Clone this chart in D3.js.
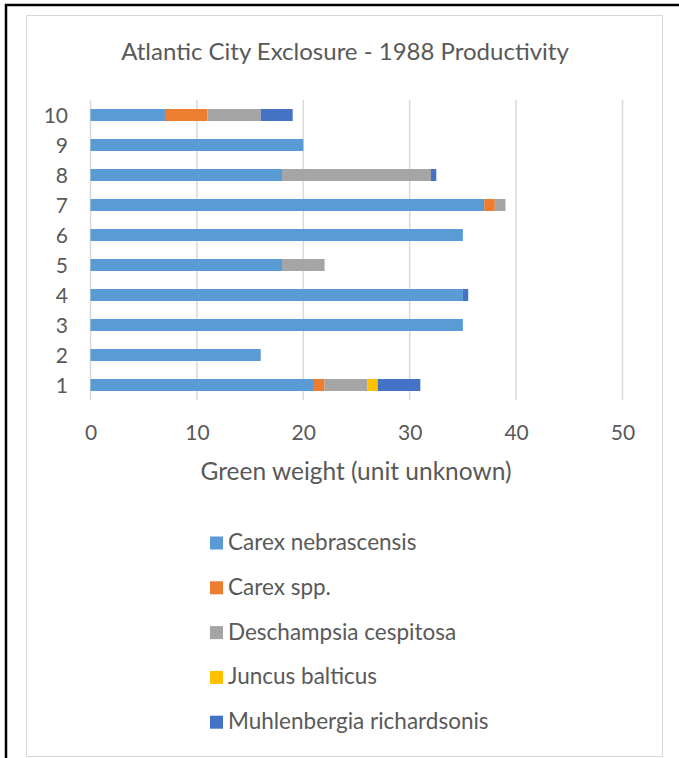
<!DOCTYPE html>
<html>
<head>
<meta charset="utf-8">
<script src="https://cdn.jsdelivr.net/npm/d3@7"></script>
<style>
  body { margin: 0; background: #fff; }
  text { font-family: Lato, "Open Sans", sans-serif; fill: #595959; }
</style>
</head>
<body>
<svg id="chart"></svg>
<script>
// plots, bottom to top
var plots = ["1", "2", "3", "4", "5", "6", "7", "8", "9", "10"];
var species = [
  "Carex nebrascensis",
  "Carex spp.",
  "Deschampsia cespitosa",
  "Juncus balticus",
  "Muhlenbergia richardsonis"
];
var carexNebrascensis = [21, 16, 35, 35, 18, 35, 37, 18, 20, 7];
var carexSpp          = [1, 0, 0, 0, 0, 0, 1, 0, 0, 4];
var deschampsia       = [4, 0, 0, 0, 4, 0, 1, 14, 0, 5];
var juncus            = [1, 0, 0, 0, 0, 0, 0, 0, 0, 0];
var muhlenbergia      = [4, 0, 0, 0.5, 0, 0, 0, 0.5, 0, 3];
var xTicks = [0, 10, 20, 30, 40, 50];
var colors = ["#5B9BD5", "#ED7D31", "#A5A5A5", "#FFC000", "#4472C4"];

var seriesValues = [carexNebrascensis, carexSpp, deschampsia, juncus, muhlenbergia];
var rows = plots.map(function (p, i) {
  var r = {plot: p};
  species.forEach(function (s, k) { r[s] = seriesValues[k][i]; });
  return r;
});

const width = 679, height = 758;
const svg = d3.select("#chart").attr("width", width).attr("height", height);

// outer frame (only top and left edges visible)
svg.append("line").attr("x1", 5).attr("x2", width).attr("y1", 5).attr("y2", 5)
  .attr("stroke", "#000").attr("stroke-width", 2.5);
svg.append("line").attr("x1", 6).attr("x2", 6).attr("y1", 4).attr("y2", height)
  .attr("stroke", "#000").attr("stroke-width", 2.5);

// chart area border
svg.append("rect").attr("x", 26.5).attr("y", 15.5).attr("width", 636).attr("height", 741)
  .attr("fill", "#fff").attr("stroke", "#d9d9d9").attr("stroke-width", 1);

svg.append("text")
  .attr("x", 345).attr("y", 60)
  .attr("text-anchor", "middle")
  .style("font-size", "24px")
  .text("Atlantic City Exclosure - 1988 Productivity");

const x = d3.scaleLinear().domain([0, 50]).range([90.5, 622.5]);
const y = d3.scaleBand().domain(plots.slice().reverse()).range([100, 400])
  .paddingInner(0.6).paddingOuter(0.3);

// gridlines
svg.append("g").selectAll("line").data(xTicks).enter().append("line")
  .attr("x1", d => x(d)).attr("x2", d => x(d))
  .attr("y1", 100).attr("y2", 400)
  .attr("stroke", "#d9d9d9").attr("stroke-width", 1.5);

const stack = d3.stack().keys(species);
const layers = stack(rows);

svg.append("g").selectAll("g").data(layers).enter().append("g")
  .attr("fill", (d, i) => colors[i])
  .selectAll("rect").data(d => d).enter().append("rect")
  .attr("x", d => x(d[0]))
  .attr("y", d => y(d.data.plot))
  .attr("width", d => x(d[1]) - x(d[0]))
  .attr("height", y.bandwidth());

// y axis labels
const yAxis = d3.axisLeft(y).tickSize(0).tickPadding(0);
const gy = svg.append("g").attr("transform", "translate(68,1)").call(yAxis);
gy.select(".domain").remove();
gy.selectAll("text").style("font-size", "21px").style("font-family", null).attr("fill", null);

// x axis labels
const xAxis = d3.axisBottom(x).tickValues(xTicks).tickSize(0).tickPadding(0);
const gx = svg.append("g").attr("transform", "translate(0,425)").call(xAxis);
gx.select(".domain").remove();
gx.selectAll("text").style("font-size", "21px").style("font-family", null).attr("fill", null);

svg.append("text")
  .attr("x", 356).attr("y", 480)
  .attr("text-anchor", "middle")
  .style("font-size", "24.5px")
  .text("Green weight (unit unknown)");

// legend
const legend = svg.append("g").selectAll("g").data(species).enter().append("g")
  .attr("transform", (d, i) => "translate(210," + (543 + i * 44.8) + ")");
legend.append("rect").attr("x", 0).attr("y", -6.5).attr("width", 13).attr("height", 13)
  .attr("fill", (d, i) => colors[i]);
legend.append("text").attr("x", 18).attr("y", 7).style("font-size", "22.5px").text(d => d);
</script>
</body>
</html>
